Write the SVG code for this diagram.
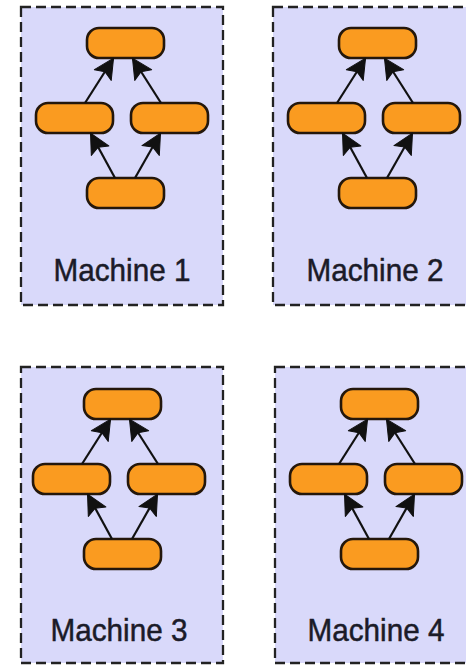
<svg xmlns="http://www.w3.org/2000/svg" width="466" height="667" viewBox="0 0 466 667">
  <style>
    .machine { fill: #d9d9fa; stroke: #222; stroke-width: 2.3; stroke-dasharray: 10 5; }
    .task { fill: #fa9b20; stroke: #24170b; stroke-width: 2.6; }
    .edge { stroke: #111; stroke-width: 2.2; fill: none; marker-end: url(#head); }
    .label { font-family: "Liberation Sans", Arial, sans-serif; font-size: 32px; fill: #1b1b28; stroke: #1b1b28; stroke-width: 0.5; text-anchor: middle; }
  </style>
  <defs>
    <!-- swept dart arrowhead shared by every connector -->
    <marker id="head" markerUnits="userSpaceOnUse" viewBox="-21 -12 22 24" refX="0" refY="0" markerWidth="22" markerHeight="24" orient="auto" overflow="visible">
      <path d="M1,0 L-19,-10 L-15,0 L-19,10 Z" fill="#111" stroke="#111" stroke-width="1" stroke-linejoin="round"/>
    </marker>
  </defs>
  <rect width="466" height="667" fill="#fff"/>

  <!-- Machine 1 -->
  <g id="machine1">
    <rect class="machine" x="21" y="7" width="202" height="298"/>
    <g transform="translate(21,7)">
      <g id="m1-top"><rect class="task" x="66" y="21" width="77" height="30" rx="12"/></g>
      <g id="m1-left"><rect class="task" x="15" y="96" width="77" height="30" rx="12"/></g>
      <g id="m1-right"><rect class="task" x="110" y="96" width="77" height="30" rx="12"/></g>
      <g id="m1-bottom"><rect class="task" x="66" y="171" width="77" height="30" rx="12"/></g>
      <g id="m1-edges">
        <line class="edge" x1="64" y1="96" x2="92" y2="52"/>
        <line class="edge" x1="140" y1="96" x2="112" y2="52"/>
        <line class="edge" x1="94" y1="171" x2="70" y2="127"/>
        <line class="edge" x1="114" y1="171" x2="139" y2="127"/>
      </g>
      <text class="label" x="101" y="274" textLength="137" lengthAdjust="spacingAndGlyphs">Machine 1</text>
    </g>
  </g>

  <!-- Machine 2 -->
  <g id="machine2">
    <rect class="machine" x="273" y="7" width="202" height="298"/>
    <g transform="translate(273,7)">
      <g id="m2-top"><rect class="task" x="66" y="21" width="77" height="30" rx="12"/></g>
      <g id="m2-left"><rect class="task" x="15" y="96" width="77" height="30" rx="12"/></g>
      <g id="m2-right"><rect class="task" x="110" y="96" width="77" height="30" rx="12"/></g>
      <g id="m2-bottom"><rect class="task" x="66" y="171" width="77" height="30" rx="12"/></g>
      <g id="m2-edges">
        <line class="edge" x1="64" y1="96" x2="92" y2="52"/>
        <line class="edge" x1="140" y1="96" x2="112" y2="52"/>
        <line class="edge" x1="94" y1="171" x2="70" y2="127"/>
        <line class="edge" x1="114" y1="171" x2="139" y2="127"/>
      </g>
      <text class="label" x="102" y="274" textLength="137" lengthAdjust="spacingAndGlyphs">Machine 2</text>
    </g>
  </g>

  <!-- Machine 3 -->
  <g id="machine3">
    <rect class="machine" x="21" y="367" width="202" height="296"/>
    <g transform="translate(18,367)">
      <g id="m3-top"><rect class="task" x="66" y="22" width="77" height="30" rx="12"/></g>
      <g id="m3-left"><rect class="task" x="15" y="97" width="77" height="30" rx="12"/></g>
      <g id="m3-right"><rect class="task" x="110" y="97" width="77" height="30" rx="12"/></g>
      <g id="m3-bottom"><rect class="task" x="66" y="172" width="77" height="30" rx="12"/></g>
      <g id="m3-edges">
        <line class="edge" x1="64" y1="97" x2="92" y2="53"/>
        <line class="edge" x1="140" y1="97" x2="112" y2="53"/>
        <line class="edge" x1="94" y1="172" x2="70" y2="128"/>
        <line class="edge" x1="114" y1="172" x2="139" y2="128"/>
      </g>
      <text class="label" x="101" y="274" textLength="137" lengthAdjust="spacingAndGlyphs">Machine 3</text>
    </g>
  </g>

  <!-- Machine 4 -->
  <g id="machine4">
    <rect class="machine" x="275" y="367" width="202" height="296"/>
    <g transform="translate(275,367)">
      <g id="m4-top"><rect class="task" x="66" y="22" width="77" height="30" rx="12"/></g>
      <g id="m4-left"><rect class="task" x="15" y="97" width="77" height="30" rx="12"/></g>
      <g id="m4-right"><rect class="task" x="110" y="97" width="77" height="30" rx="12"/></g>
      <g id="m4-bottom"><rect class="task" x="66" y="172" width="77" height="30" rx="12"/></g>
      <g id="m4-edges">
        <line class="edge" x1="64" y1="97" x2="92" y2="53"/>
        <line class="edge" x1="140" y1="97" x2="112" y2="53"/>
        <line class="edge" x1="94" y1="172" x2="70" y2="128"/>
        <line class="edge" x1="114" y1="172" x2="139" y2="128"/>
      </g>
      <text class="label" x="101" y="274" textLength="137" lengthAdjust="spacingAndGlyphs">Machine 4</text>
    </g>
  </g>
</svg>
